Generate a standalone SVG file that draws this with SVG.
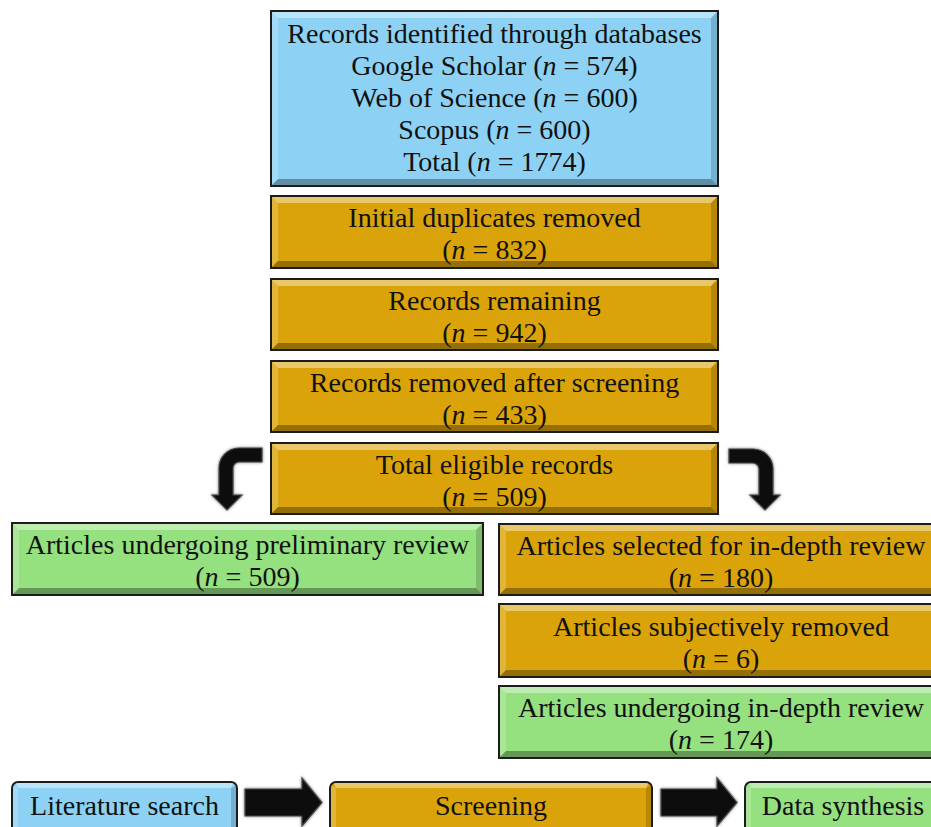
<svg xmlns="http://www.w3.org/2000/svg" width="931" height="827" viewBox="0 0 931 827">
<defs>
<style>
.blue{fill:#8DD2F4}
.gold{fill:#DAA309}
.green{fill:#95E07F}
.edge{fill:none;stroke:#1c1c1c;stroke-width:2}
.bt{fill:#fff;opacity:.4}
.bl{fill:#fff;opacity:.2}
.br{fill:#000;opacity:.16}
.bb{fill:#000;opacity:.32}
text{font-family:"Liberation Serif","Times New Roman",serif;font-size:28px;fill:#111;text-anchor:middle}
.i{font-style:italic}
.arrow{fill:#111;stroke:#444;stroke-width:1.2}
</style>
<filter id="glow" x="-20%" y="-20%" width="140%" height="140%">
<feGaussianBlur in="SourceAlpha" stdDeviation="1.6" result="b"/>
<feFlood flood-color="#777"/>
<feComposite in2="b" operator="in" result="s"/>
<feMerge><feMergeNode in="s"/><feMergeNode in="SourceGraphic"/></feMerge>
</filter>
</defs>
<rect width="931" height="827" fill="#fff"/>

<g id="n-records">
<rect class="blue" x="271" y="11" width="447" height="175"/>
<polygon class="bt" points="271,11 718,11 711,18 278,18"/>
<polygon class="bl" points="271,11 278,18 278,179 271,186"/>
<polygon class="br" points="718,11 718,186 711,179 711,18"/>
<polygon class="bb" points="271,186 278,179 711,179 718,186"/>
<rect class="edge" x="271" y="11" width="447" height="175"/>
<text x="494.5" y="43">Records identified through databases</text>
<text x="494.5" y="75">Google Scholar (<tspan class="i">n</tspan> = 574)</text>
<text x="494.5" y="107">Web of Science (<tspan class="i">n</tspan> = 600)</text>
<text x="494.5" y="139">Scopus (<tspan class="i">n</tspan> = 600)</text>
<text x="494.5" y="171">Total (<tspan class="i">n</tspan> = 1774)</text>
</g>

<g id="n-duplicates">
<rect class="gold" x="271" y="196" width="447" height="72"/>
<polygon class="bt" points="271,196 718,196 711,203 278,203"/>
<polygon class="bl" points="271,196 278,203 278,261 271,268"/>
<polygon class="br" points="718,196 718,268 711,261 711,203"/>
<polygon class="bb" points="271,268 278,261 711,261 718,268"/>
<rect class="edge" x="271" y="196" width="447" height="72"/>
<text x="494.5" y="227">Initial duplicates removed</text>
<text x="494.5" y="259">(<tspan class="i">n</tspan> = 832)</text>
</g>

<g id="n-remaining">
<rect class="gold" x="271" y="279" width="447" height="71"/>
<polygon class="bt" points="271,279 718,279 711,286 278,286"/>
<polygon class="bl" points="271,279 278,286 278,343 271,350"/>
<polygon class="br" points="718,279 718,350 711,343 711,286"/>
<polygon class="bb" points="271,350 278,343 711,343 718,350"/>
<rect class="edge" x="271" y="279" width="447" height="71"/>
<text x="494.5" y="310">Records remaining</text>
<text x="494.5" y="342">(<tspan class="i">n</tspan> = 942)</text>
</g>

<g id="n-screened">
<rect class="gold" x="271" y="361" width="447" height="71"/>
<polygon class="bt" points="271,361 718,361 711,368 278,368"/>
<polygon class="bl" points="271,361 278,368 278,425 271,432"/>
<polygon class="br" points="718,361 718,432 711,425 711,368"/>
<polygon class="bb" points="271,432 278,425 711,425 718,432"/>
<rect class="edge" x="271" y="361" width="447" height="71"/>
<text x="494.5" y="392">Records removed after screening</text>
<text x="494.5" y="424">(<tspan class="i">n</tspan> = 433)</text>
</g>

<g id="n-eligible">
<rect class="gold" x="271" y="443" width="447" height="71"/>
<polygon class="bt" points="271,443 718,443 711,450 278,450"/>
<polygon class="bl" points="271,443 278,450 278,507 271,514"/>
<polygon class="br" points="718,443 718,514 711,507 711,450"/>
<polygon class="bb" points="271,514 278,507 711,507 718,514"/>
<rect class="edge" x="271" y="443" width="447" height="71"/>
<text x="494.5" y="474">Total eligible records</text>
<text x="494.5" y="506">(<tspan class="i">n</tspan> = 509)</text>
</g>

<g id="n-preliminary">
<rect class="green" x="12" y="523" width="471" height="72"/>
<polygon class="bt" points="12,523 483,523 476,530 19,530"/>
<polygon class="bl" points="12,523 19,530 19,588 12,595"/>
<polygon class="br" points="483,523 483,595 476,588 476,530"/>
<polygon class="bb" points="12,595 19,588 476,588 483,595"/>
<rect class="edge" x="12" y="523" width="471" height="72"/>
<text x="247.5" y="554">Articles undergoing preliminary review</text>
<text x="247.5" y="586">(<tspan class="i">n</tspan> = 509)</text>
</g>

<g id="n-selected">
<rect class="gold" x="499" y="524" width="441" height="71"/>
<polygon class="bt" points="499,524 940,524 933,531 506,531"/>
<polygon class="bl" points="499,524 506,531 506,588 499,595"/>
<polygon class="br" points="940,524 940,595 933,588 933,531"/>
<polygon class="bb" points="499,595 506,588 933,588 940,595"/>
<rect class="edge" x="499" y="524" width="441" height="71"/>
<text x="721" y="555">Articles selected for in-depth review</text>
<text x="721" y="587">(<tspan class="i">n</tspan> = 180)</text>
</g>

<g id="n-subjective">
<rect class="gold" x="499" y="604" width="441" height="73"/>
<polygon class="bt" points="499,604 940,604 933,611 506,611"/>
<polygon class="bl" points="499,604 506,611 506,670 499,677"/>
<polygon class="br" points="940,604 940,677 933,670 933,611"/>
<polygon class="bb" points="499,677 506,670 933,670 940,677"/>
<rect class="edge" x="499" y="604" width="441" height="73"/>
<text x="721" y="636">Articles subjectively removed</text>
<text x="721" y="668">(<tspan class="i">n</tspan> = 6)</text>
</g>

<g id="n-indepth">
<rect class="green" x="499" y="686" width="441" height="72"/>
<polygon class="bt" points="499,686 940,686 933,693 506,693"/>
<polygon class="bl" points="499,686 506,693 506,751 499,758"/>
<polygon class="br" points="940,686 940,758 933,751 933,693"/>
<polygon class="bb" points="499,758 506,751 933,751 940,758"/>
<rect class="edge" x="499" y="686" width="441" height="72"/>
<text x="721" y="717">Articles undergoing in-depth review</text>
<text x="721" y="749">(<tspan class="i">n</tspan> = 174)</text>
</g>

<g id="legend-search">
<rect class="blue" x="12" y="782" width="225" height="52" rx="6"/>
<polygon class="bt" points="15,782 234,782 231,788 18,788"/>
<polygon class="bl" points="12,785 18,788 18,828 12,831"/>
<polygon class="br" points="237,785 237,831 231,828 231,788"/>
<rect class="edge" x="12" y="782" width="225" height="52" rx="6"/>
<text x="124.5" y="815">Literature search</text>
</g>

<g id="legend-screening">
<rect class="gold" x="330" y="782" width="322" height="52" rx="6"/>
<polygon class="bt" points="333,782 649,782 646,788 336,788"/>
<polygon class="bl" points="330,785 336,788 336,828 330,831"/>
<polygon class="br" points="652,785 652,831 646,828 646,788"/>
<rect class="edge" x="330" y="782" width="322" height="52" rx="6"/>
<text x="491" y="815">Screening</text>
</g>

<g id="legend-synthesis">
<rect class="green" x="745" y="782" width="200" height="52" rx="6"/>
<polygon class="bt" points="748,782 942,782 939,788 751,788"/>
<polygon class="bl" points="745,785 751,788 751,828 745,831"/>
<rect class="edge" x="745" y="782" width="200" height="52" rx="6"/>
<text x="843" y="815">Data synthesis</text>
</g>

<g id="connectors" filter="url(#glow)">
<path class="arrow" d="M262,448 L239,448 A20,20 0 0 0 219,468 L219,495 L212,495 L227,510 L242,495 L233,495 L233,468 A6,6 0 0 1 239,462 L262,462 Z"/>
<path class="arrow" d="M729,449 L753,449 A20,20 0 0 1 773,469 L773,495 L780,495 L765,510 L750,495 L759,495 L759,469 A6,6 0 0 0 753,463 L729,463 Z"/>
<path class="arrow" d="M245,789 L302,789 L302,778 L322,802.5 L302,826 L302,816 L245,816 Z"/>
<path class="arrow" d="M661,789 L717,789 L717,778 L737,802.5 L717,826 L717,816 L661,816 Z"/>
</g>
</svg>
